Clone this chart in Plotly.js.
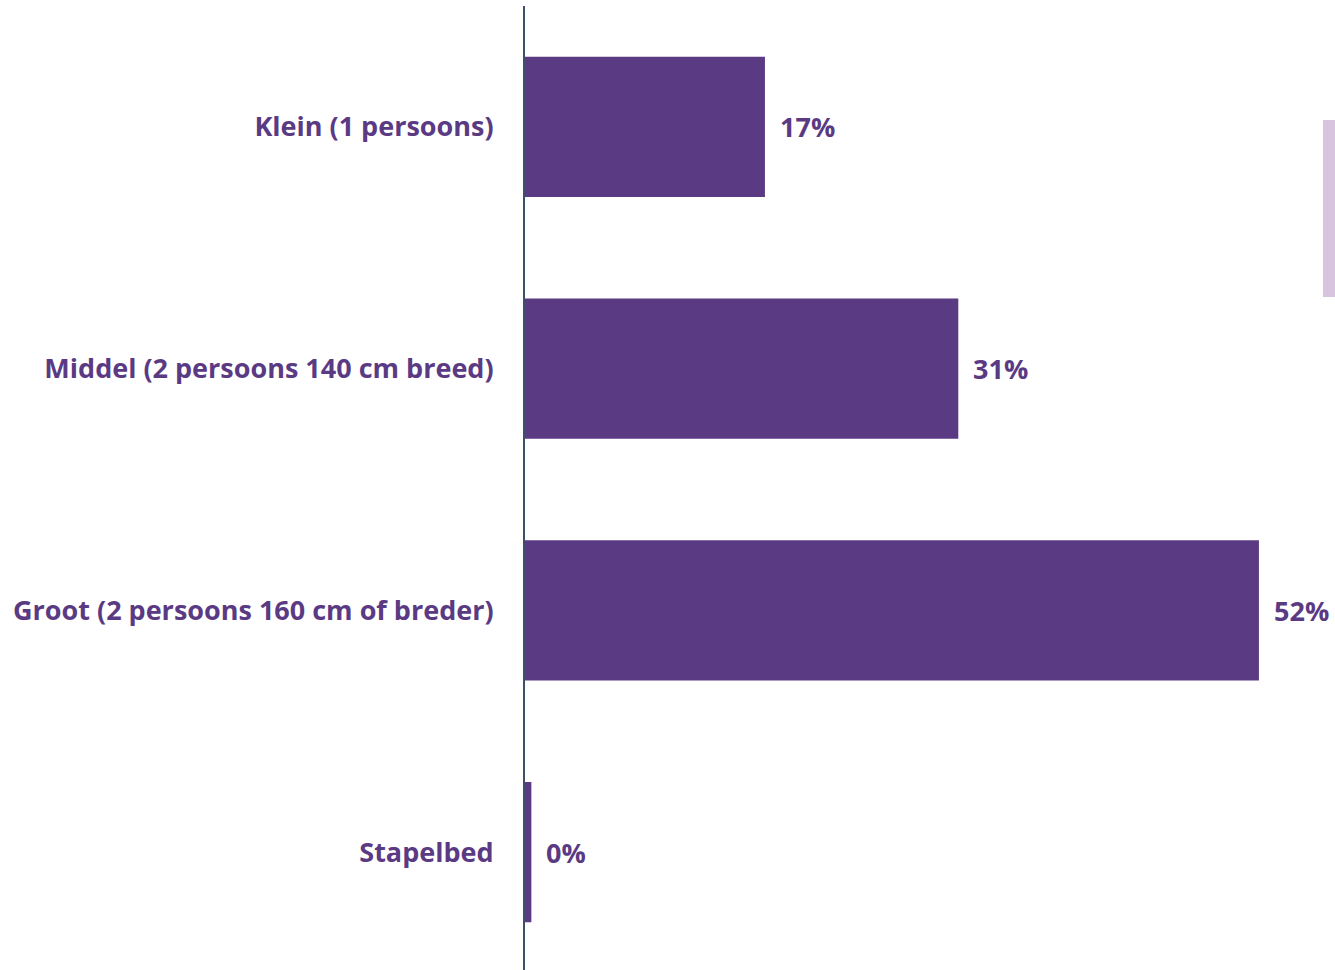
<!DOCTYPE html>
<html>
<head>
<meta charset="utf-8">
<script src="https://cdn.plot.ly/plotly-3.0.1.min.js"></script>
<style>
html,body{margin:0;padding:0;overflow:hidden;background:#fff;}
#chart{width:1335px;height:973px;}
</style>
</head>
<body>
<div id="chart"></div>
<script>
const categories = ["Klein (1 persoons)", "Middel (2 persoons 140 cm breed)", "Groot (2 persoons 160 cm of breder)", "Stapelbed"];
const values = [17.0, 30.7, 52.0, 0.45];
const valueLabels = ["17%", "31%", "52%", "0%"];

const purple = "#5B3A84";
const fontFamily = "'Open Sans', Lato, sans-serif";

const trace = {
  type: "bar",
  orientation: "h",
  y: categories,
  x: values,
  marker: {color: purple, line: {width: 0}},
  hoverinfo: "none"
};

const annotations = categories.map((c, i) => ({
  x: values[i], y: c, xref: "x", yref: "y",
  text: valueLabels[i], showarrow: false,
  xanchor: "left", yanchor: "middle", xshift: 13,
  font: {family: fontFamily, size: 27, color: purple, weight: "bold"}
}));

const layout = {
  width: 1335, height: 973,
  margin: {l: 525, r: 0, t: 6, b: 0, pad: 0},
  paper_bgcolor: "#fff", plot_bgcolor: "#fff",
  showlegend: false,
  bargap: 0.42,
  xaxis: {range: [0, 57.39], showgrid: false, zeroline: false, showticklabels: false, showline: false, ticks: "", fixedrange: true},
  yaxis: {
    autorange: "reversed",
    showgrid: false, zeroline: false,
    showline: true, linecolor: "#3E4F6A", linewidth: 2,
    ticks: "outside", ticklen: 24, tickcolor: "rgba(0,0,0,0)",
    tickfont: {family: fontFamily, size: 27, color: purple, weight: "bold"}
  },
  annotations: annotations,
  shapes: [{type: "rect", xref: "paper", yref: "paper", x0: (1323-525)/810, x1: 1.0, y0: 1 - (120-6)/967, y1: 1 - (297-6)/967, fillcolor: "#D9C4E0", line: {width: 0}}]
};

Plotly.newPlot("chart", [trace], layout, {displayModeBar: false, staticPlot: true});
</script>
</body>
</html>
